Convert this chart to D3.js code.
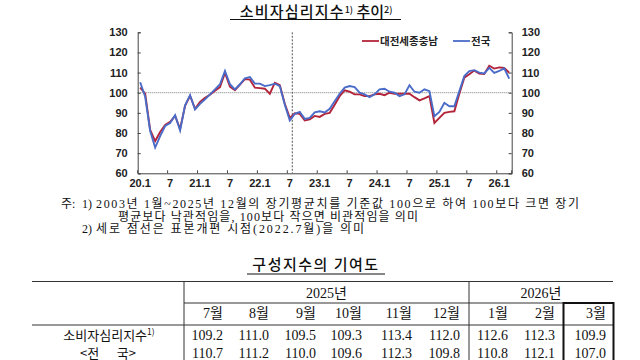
<!DOCTYPE html>
<html>
<head>
<meta charset="utf-8">
<script src="https://cdn.jsdelivr.net/npm/d3@7"></script>
<style>
  html, body { margin: 0; padding: 0; background: #fff; }
  svg { display: block; }
  .kr { font-family: "Noto Sans CJK KR", "Noto Sans", sans-serif; }
  .num { font-family: "Liberation Serif", "Noto Sans CJK KR", serif; }
</style>
</head>
<body>
<svg id="chart" width="640" height="360"></svg>
<script>
// monthly series, 2020.1 ~ 2026.3
const regional = [
  102.5, 99.5, 81.5, 76.0, 80.5, 84.0, 85.5, 88.5, 82.0, 93.5, 98.5, 92.0,
  95.5, 97.5, 99.0, 101.0, 102.8, 109.8, 103.0, 101.2, 104.0, 106.8, 106.5, 102.5,
  102.3, 102.0, 99.5, 105.0, 103.8, 94.5, 87.5, 89.8, 89.5, 86.2, 86.8, 88.5,
  88.0, 89.5, 90.0, 94.0, 98.3, 101.2, 100.5, 99.2, 99.2, 98.3, 98.3, 99.2,
  99.5, 98.8, 100.0, 99.5, 99.5, 99.5, 99.5, 97.8, 96.2, 97.2, 98.3, 85.0,
  87.5, 90.0, 90.5, 90.8, 99.5, 107.5, 109.2, 111.0, 109.5, 109.3, 113.4, 112.0,
  112.6, 112.3, 109.9
];
const national = [
  105.2, 98.0, 81.0, 72.8, 78.5, 83.5, 85.0, 88.8, 81.2, 93.8, 98.8, 91.7,
  94.5, 96.7, 99.2, 101.7, 104.2, 110.8, 104.2, 101.7, 104.2, 107.2, 107.8, 104.5,
  104.5, 103.3, 103.8, 104.5, 103.3, 94.0, 86.2, 89.5, 90.5, 87.0, 87.5, 90.3,
  90.8, 90.2, 92.0, 95.8, 99.5, 102.5, 103.3, 102.8, 100.0, 99.2, 97.8, 99.2,
  101.7, 102.0, 100.5, 100.0, 98.3, 99.2, 103.7, 100.5, 100.0, 101.7, 100.8, 88.3,
  90.5, 95.0, 93.3, 93.3, 100.8, 108.3, 110.7, 111.2, 110.0, 109.6, 112.3, 109.8,
  110.8, 112.1, 107.0
];
const xTickLabels = ['20.1','7','21.1','7','22.1','7','23.1','7','24.1','7','25.1','7','26.1'];
const yTicks = [60, 70, 80, 90, 100, 110, 120, 130];
const seriesNames = ['대전세종충남', '전국'];
const revisionIndex = 30; // 2022.7

// table
const tableYears = ['2025년', '2026년'];
const tableMonths = ['7월','8월','9월','10월','11월','12월','1월','2월','3월'];
const tableRegional = ['109.2','111.0','109.5','109.3','113.4','112.0','112.6','112.3','109.9'];
const tableNational = ['110.7','111.2','110.0','109.6','112.3','109.8','110.8','112.1','107.0'];

const red = '#b3243a', blue = '#4a6cc9';
const svg = d3.select('#chart');

// ---- chart title
const title = svg.append('text').attr('class', 'kr')
  .attr('x', 316).attr('y', 16.5).attr('text-anchor', 'middle')
  .attr('font-size', 15).attr('font-weight', 500).attr('fill', '#111');
title.append('tspan').attr('letter-spacing', 1.2).text('소비자심리지수');
title.append('tspan').attr('font-size', 9).attr('dy', -4).text('1)');
title.append('tspan').attr('dy', 4).text(' 추이');
title.append('tspan').attr('font-size', 9).attr('dy', -4).text('2)');
svg.append('line').attr('x1', 230).attr('x2', 401).attr('y1', 19.5).attr('y2', 19.5)
  .attr('stroke', '#111').attr('stroke-width', 1);

// ---- scales
const x = d3.scaleBand().domain(d3.range(regional.length)).range([137.7, 511.7]);
const y = d3.scaleLinear().domain([60, 130]).range([173.3, 32.3]);
const cx = i => x(i) + x.bandwidth() / 2;

// reference line at 100
svg.append('line')
  .attr('x1', x.range()[0]).attr('x2', x.range()[1])
  .attr('y1', y(100)).attr('y2', y(100))
  .attr('stroke', '#777').attr('stroke-width', 1).attr('stroke-dasharray', '1,1');

// sample revision marker
const vx = x(revisionIndex) + x.bandwidth();
svg.append('line')
  .attr('x1', vx).attr('x2', vx).attr('y1', y(130)).attr('y2', y(60))
  .attr('stroke', '#555').attr('stroke-width', 1).attr('stroke-dasharray', '2,1.5');

// axes
const axisFont = g => g.selectAll('text')
  .attr('font-family', '"Liberation Sans", Arial, sans-serif')
  .attr('font-weight', 'bold').attr('font-size', 11).attr('fill', '#222');

svg.append('g').attr('transform', `translate(${x.range()[0]},0)`)
  .call(d3.axisLeft(y).tickValues(yTicks).tickSize(-3).tickPadding(10))
  .call(g => g.selectAll('line, path').attr('stroke', '#444'))
  .call(axisFont);

svg.append('g').attr('transform', `translate(${x.range()[1]},0)`)
  .call(d3.axisRight(y).tickValues(yTicks).tickSize(-3).tickPadding(10))
  .call(g => g.selectAll('line, path').attr('stroke', '#444'))
  .call(axisFont);

const tickIdx = xTickLabels.map((d, k) => k * 6);
svg.append('g').attr('transform', `translate(0,${y(60)})`)
  .call(d3.axisBottom(x).tickValues(tickIdx).tickSize(0).tickPadding(6)
    .tickFormat((d, k) => xTickLabels[k]))
  .call(g => g.select('.domain').attr('stroke', '#444'))
  .call(axisFont);
svg.append('g').selectAll('line')
  .data(tickIdx.concat([regional.length]))
  .join('line')
  .attr('x1', d => d === regional.length ? x.range()[1] : x(d))
  .attr('x2', d => d === regional.length ? x.range()[1] : x(d))
  .attr('y1', y(60)).attr('y2', y(60) - 3)
  .attr('stroke', '#444');

// series
const line = d3.line().x((d, i) => cx(i)).y(d => y(d));
svg.append('path').datum(regional).attr('d', line)
  .attr('fill', 'none').attr('stroke', red).attr('stroke-width', 1.9);
svg.append('path').datum(national).attr('d', line)
  .attr('fill', 'none').attr('stroke', blue).attr('stroke-width', 1.9);

// legend
const legend = [
  { name: seriesNames[0], color: red, x: 362 },
  { name: seriesNames[1], color: blue, x: 453 }
];
const lg = svg.append('g').selectAll('g').data(legend).join('g')
  .attr('transform', d => `translate(${d.x},41)`);
lg.append('line').attr('x1', 0).attr('x2', 17).attr('stroke', d => d.color).attr('stroke-width', 1.8);
lg.append('text').attr('class', 'kr').attr('x', 18).attr('y', 4)
  .attr('font-size', 10.5).attr('font-weight', 'bold').attr('fill', '#222')
  .text(d => d.name);

// ---- footnotes
const notes = [
  { x: 61, y: 208, t: '주:' },
  { x: 82, y: 208, t: '1)' },
  { x: 96, y: 208, t: '2003년 1월~2025년 12월의 장기평균치를 기준값 100으로 하여 100보다 크면 장기', w: 483 },
  { x: 118, y: 220.5, t: '평균보다 낙관적임을, 100보다 작으면 비관적임을 의미', w: 300 },
  { x: 82, y: 233, t: '2)' },
  { x: 96, y: 233, t: '세로 점선은 표본개편 시점(2022.7월)을 의미', w: 268 }
];
svg.append('g').selectAll('text').data(notes).join('text')
  .attr('class', 'num').attr('x', d => d.x).attr('y', d => d.y)
  .attr('font-size', 12).attr('fill', '#111')
  .attr('textLength', d => d.w || null)
  .attr('lengthAdjust', 'spacing')
  .text(d => d.t);

// ---- table
svg.append('text').attr('class', 'kr')
  .attr('x', 316).attr('y', 270).attr('text-anchor', 'middle')
  .attr('font-size', 15).attr('font-weight', 500).attr('letter-spacing', 1.5).attr('fill', '#111')
  .text('구성지수의 기여도');
svg.append('line').attr('x1', 247).attr('x2', 385).attr('y1', 274).attr('y2', 274)
  .attr('stroke', '#111');

const tL = 32, tR = 613, colSplit = 184, yearSplit = 469;
const rowTop = 281.5, rowYear = 303, rowMonth = 325;
const tbl = svg.append('g').attr('stroke', '#333').attr('stroke-width', 1);
tbl.append('line').attr('x1', tL).attr('x2', tR).attr('y1', rowTop).attr('y2', rowTop);
tbl.append('line').attr('x1', colSplit).attr('x2', tR).attr('y1', rowYear).attr('y2', rowYear);
tbl.append('line').attr('x1', tL).attr('x2', tR).attr('y1', rowMonth).attr('y2', rowMonth);
tbl.append('line').attr('x1', colSplit).attr('x2', colSplit).attr('y1', rowTop).attr('y2', 360);
tbl.append('line').attr('x1', yearSplit).attr('x2', yearSplit).attr('y1', rowTop).attr('y2', 360);
svg.append('rect').attr('x', 563.5).attr('y', rowYear).attr('width', 50).attr('height', 70)
  .attr('fill', 'none').attr('stroke', '#111').attr('stroke-width', 2);

const colRight = [223, 269, 316, 362, 412, 460, 508, 555, 606];
svg.append('g').selectAll('text').data(tableYears).join('text')
  .attr('class', 'num').attr('text-anchor', 'middle')
  .attr('x', (d, i) => i === 0 ? (colSplit + yearSplit) / 2 : (yearSplit + tR) / 2)
  .attr('y', 298).attr('font-size', 14).attr('fill', '#111')
  .text(d => d);

const rows = [
  { vals: tableMonths, y: 318 },
  { vals: tableRegional, y: 340 },
  { vals: tableNational, y: 357.5 }
];
rows.forEach(r => {
  svg.append('g').selectAll('text').data(r.vals).join('text')
    .attr('class', 'num').attr('text-anchor', 'end')
    .attr('x', (d, i) => colRight[i]).attr('y', r.y)
    .attr('font-size', 14).attr('fill', '#111')
    .text(d => d);
});

const h1 = svg.append('text').attr('class', 'kr').attr('x', 109).attr('y', 339.5)
  .attr('text-anchor', 'middle').attr('font-size', 13).attr('fill', '#111');
h1.append('tspan').text('소비자심리지수');
h1.append('tspan').attr('font-size', 8.5).attr('dy', -5).text('1)');
svg.append('text').attr('class', 'kr').attr('x', 108).attr('y', 357.5)
  .attr('text-anchor', 'middle').attr('font-size', 13).attr('fill', '#111')
  .attr('xml:space', 'preserve')
  .text('<전      국>');
</script>
</body>
</html>
